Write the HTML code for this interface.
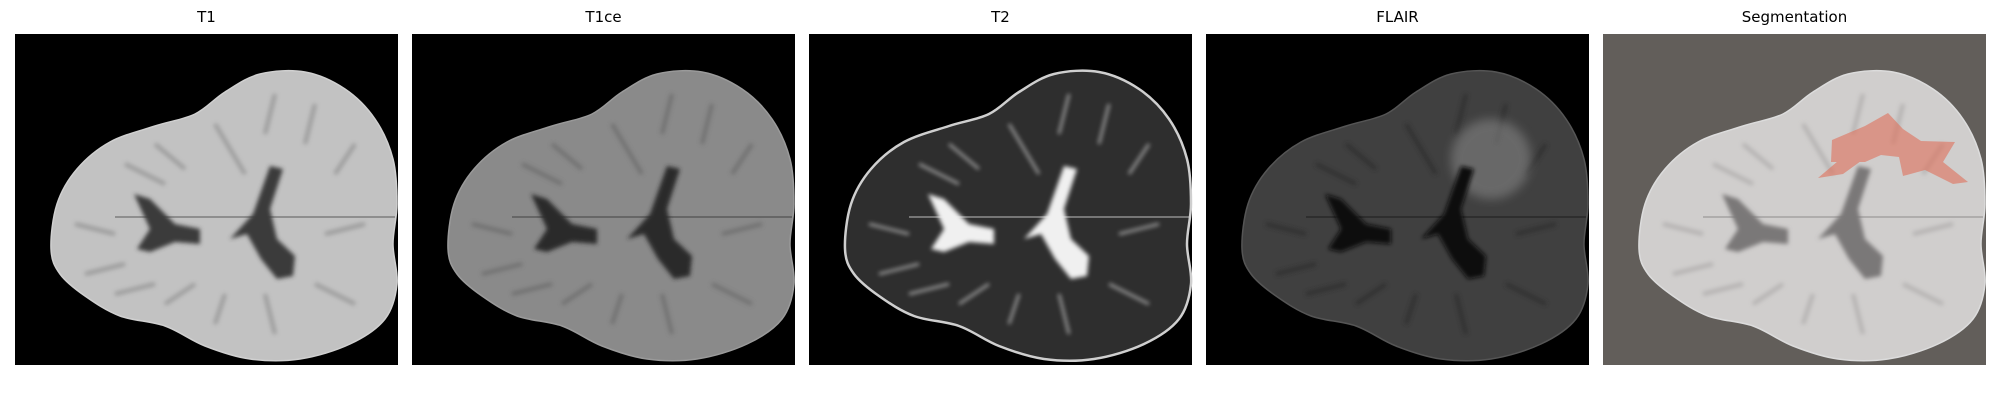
<!DOCTYPE html>
<html><head><meta charset="utf-8"><style>
html,body{margin:0;padding:0;background:#fff;width:2000px;height:400px;overflow:hidden}
svg{display:block}
text{font-family:"DejaVu Sans","Liberation Sans",sans-serif;font-size:15px;fill:#000}
</style></head><body>
<svg id="fig" width="2000" height="400">
<defs>
<filter id="blur2"><feGaussianBlur stdDeviation="2"/></filter>
<filter id="blur4"><feGaussianBlur stdDeviation="5"/></filter>
</defs>
</svg>
<script>
const titles=["T1","T1ce","T2","FLAIR","Segmentation"];
const panelX=[15,412,809,1206,1603];
const bg=["#000","#000","#000","#000","#625e5a"];
const brainFill=["#c2c2c2","#8a8a8a","#2e2e2e","#404040","#d0cecd"];
const ventFill=["#3a3a3a","#2a2a2a","#f0f0f0","#111","#7a7878"];
const edgeCol=["#d0d0d0","#9a9a9a","#cfcfcf","#555","#dcdcdc"];
const W=383,H=331,TOP=34;
const outline=[[36,215],[42,170],[62,135],[95,108],[140,92],[180,80],[210,58],[245,40],[290,38],[330,55],[360,85],[378,125],[382,170],[378,210],[382,250],[370,285],[335,310],[285,325],[235,325],[190,312],[150,292],[105,282],[70,262],[45,240]];
function smooth(p){let d=`M${p[0][0]},${p[0][1]}`;const n=p.length;
  for(let i=0;i<n;i++){const p0=p[(i-1+n)%n],p1=p[i],p2=p[(i+1)%n],p3=p[(i+2)%n];
    d+=` C${p1[0]+(p2[0]-p0[0])/6},${p1[1]+(p2[1]-p0[1])/6} ${p2[0]-(p3[0]-p1[0])/6},${p2[1]-(p3[1]-p1[1])/6} ${p2[0]},${p2[1]}`;}
  return d+'Z';}
const brain=smooth(outline);
const ventL="M119,160 L135,165 L160,190 L185,195 L185,210 L160,208 L135,218 L122,215 L135,195 Z";
const ventR="M255,132 L268,135 L255,175 L262,205 L280,222 L278,242 L262,245 L246,225 L232,200 L215,205 L238,180 Z";
const tumor="M229,106 L262,92 L285,79 L300,95 L318,107 L352,108 L340,128 L365,148 L350,150 L322,136 L300,142 L296,123 L278,121 L262,128 L228,128 Z M235,127 L258,127 L240,140 L215,144 Z";
const svg=document.getElementById('fig');
const NS="http://www.w3.org/2000/svg";
function mk(tag,attrs,parent){const e=document.createElementNS(NS,tag);for(const k in attrs)e.setAttribute(k,attrs[k]);parent.appendChild(e);return e;}
titles.forEach((t,i)=>{
  const g=mk('g',{transform:`translate(${panelX[i]},${TOP})`},svg);
  
  
  const r=mk('rect',{x:0,y:0,width:W,height:H,fill:bg[i]},g);
  
  
  const b=mk('path',{d:brain,fill:brainFill[i],stroke:edgeCol[i],'stroke-width':i==2?2.5:1.5},g);
  
  
  const sg=mk('g',{stroke:i==2?"#bdbdbd":(i==4?"#a8a6a5":(i==0?"#8a8a8a":(i==3?"#2a2a2a":"#666"))),'stroke-width':i==2?3:4,fill:'none',opacity:0.7,filter:'url(#blur2)'},g);
  [[60,190,100,200],[70,240,110,230],[110,130,150,150],[140,110,170,135],[200,90,230,140],[260,60,250,100],[300,70,290,110],[340,110,320,140],[350,190,310,200],[340,270,300,250],[260,300,250,260],[200,290,210,260],[150,270,180,250],[100,260,140,250]].forEach(s=>{
    const l=mk('line',{x1:s[0],y1:s[1],x2:s[2],y2:s[3]},sg);
    
    
  });
  if(i==3){const h=mk('ellipse',{cx:285,cy:125,rx:40,ry:40,fill:'#8a8a8a',opacity:0.55,filter:'url(#blur4)'},g);
    }
  const ml=mk('line',{x1:100,y1:183,x2:380,y2:183,stroke:ventFill[i],'stroke-width':1.5,opacity:0.5},g);
  
  [ventL,ventR].forEach(d=>{const v=mk('path',{d:d,fill:ventFill[i],filter:'url(#blur2)'},g);
    });
  if(i==4){const tm=mk('path',{d:tumor,fill:'#e0705a',opacity:0.6},g);
    }
  const tx=mk('text',{x:W/2,y:-12,'text-anchor':'middle'},g);
  tx.textContent=t;
  
  
});
</script>
</body></html>
